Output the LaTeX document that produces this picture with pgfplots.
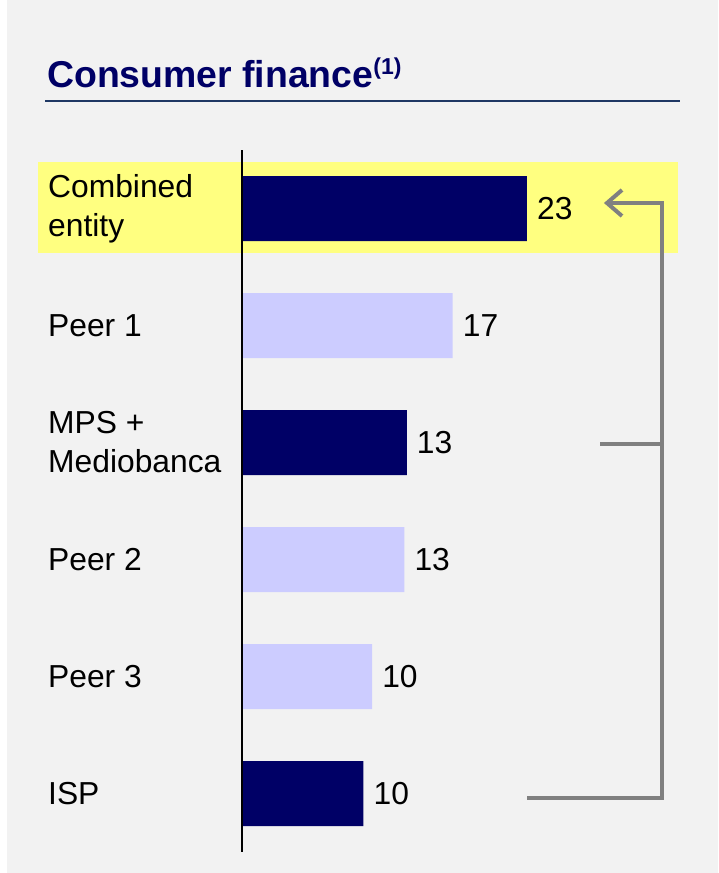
\documentclass[border=0pt]{standalone}
\usepackage{fontspec}
\setmainfont{Liberation Sans}
\usepackage{pgfplots}
\pgfplotsset{compat=1.18}
\usetikzlibrary{arrows.meta}
\definecolor{navy}{HTML}{000066}
\definecolor{lav}{HTML}{CCCCFF}
\definecolor{bg}{HTML}{F2F2F2}
\definecolor{hl}{HTML}{FFFF80}
\definecolor{rule}{HTML}{1F3864}
\definecolor{brk}{HTML}{808080}
\tikzset{lab/.style={anchor=west, align=left, inner sep=0pt, font=\fontsize{31.8}{39}\selectfont}}
\begin{document}
\begin{tikzpicture}
% background, highlight and title (pixel grid of the reference)
\begin{scope}[x=1pt,y=-1pt]
\fill[white] (0,0) rectangle (718,873);
\fill[bg] (7,0) rectangle (718,873);
\fill[hl] (38,162) rectangle (678,253);
\node[anchor=base west, inner sep=0pt, text=navy,
  font=\fontsize{37.4}{40}\selectfont\bfseries] at (47,87)
  {Consumer finance\raisebox{13pt}{\fontsize{23}{23}\selectfont(1)}};
\draw[line width=2.5pt, rule] (45,101) -- (680,101);
\end{scope}

\begin{axis}[
  at={(242pt,-852pt)}, anchor=south west,
  scale only axis, width=438pt, height=702pt,
  xmin=0, xmax=35.35, ymin=-0.5, ymax=5.5, y dir=reverse,
  axis lines=none, clip=false,
  xbar, bar width=65pt, bar shift=0pt,
  point meta=explicit symbolic,
  nodes near coords,
  every node near coord/.append style={anchor=west, inner sep=0pt, xshift=10pt,
    text=black, font=\fontsize{31.8}{39}\selectfont},
]
\addplot[fill=navy, draw=none] coordinates {(23,0)[23] (13.3,2)[13] (9.8,5)[10]};
\addplot[fill=lav, draw=none] coordinates {(17,1)[17] (13.1,3)[13] (10.5,4)[10]};
\draw[black, line width=1.2pt] (axis cs:0,-0.5) -- (axis cs:0,5.5);
\node[lab] at (axis cs:-15.66,0) {Combined\\entity};
\node[lab] at (axis cs:-15.66,1) {Peer 1};
\node[lab] at (axis cs:-15.66,2) {MPS +\\Mediobanca};
\node[lab] at (axis cs:-15.66,3) {Peer 2};
\node[lab] at (axis cs:-15.66,4) {Peer 3};
\node[lab] at (axis cs:-15.66,5) {ISP};
\end{axis}

% bracket
\begin{scope}[x=1pt,y=-1pt]
\draw[brk, line width=4pt] (527,798) -- (662,798) -- (662,203) -- (608,203);
\draw[brk, line width=4pt] (600,444) -- (662,444);
\draw[brk, line width=4pt] (622,190) -- (607,203) -- (622,216);
\end{scope}
\end{tikzpicture}
\end{document}
